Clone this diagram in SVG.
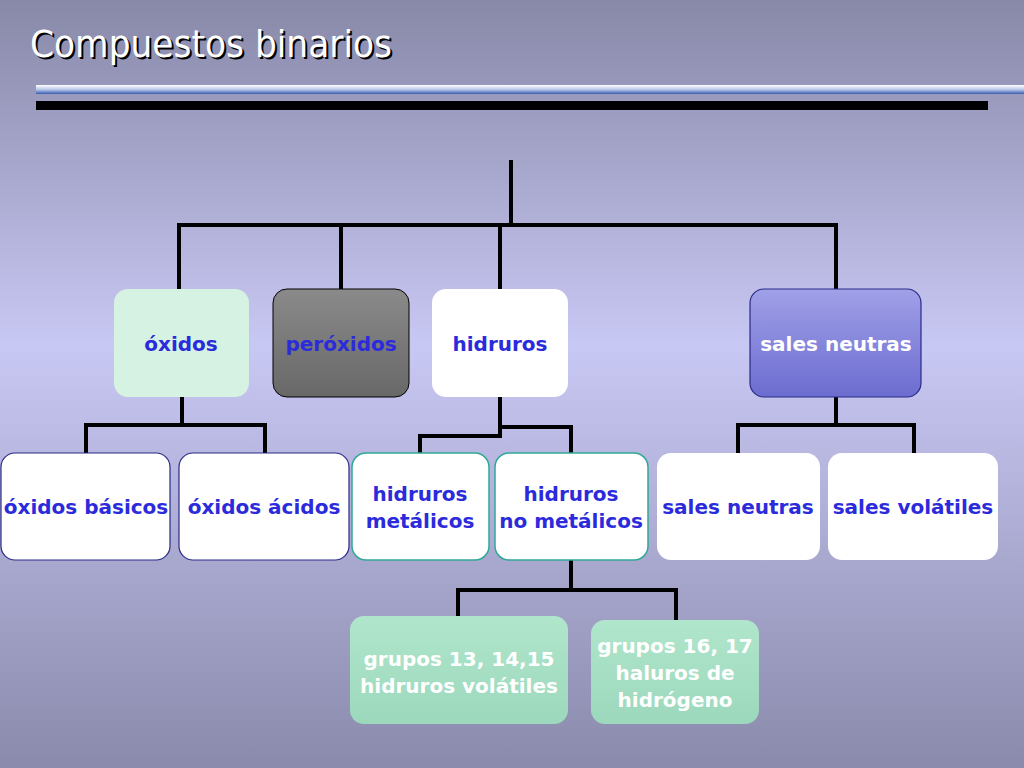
<svg xmlns="http://www.w3.org/2000/svg" width="1024" height="768" viewBox="0 0 1024 768">
<defs>
<linearGradient id="bg" x1="0" y1="0" x2="0" y2="1">
<stop offset="0" stop-color="#8888a8"/><stop offset="0.45" stop-color="#c8c8f4"/><stop offset="1" stop-color="#8a8aac"/>
</linearGradient>
<linearGradient id="bar" x1="0" y1="0" x2="0" y2="1">
<stop offset="0" stop-color="#ffffff"/><stop offset="0.5" stop-color="#b8c8e8"/><stop offset="1" stop-color="#3a5cb0"/>
</linearGradient>
<linearGradient id="gray" x1="0" y1="0" x2="0" y2="1"><stop offset="0" stop-color="#8a8a8a"/><stop offset="1" stop-color="#686868"/></linearGradient>
<linearGradient id="blu" x1="0" y1="0" x2="0" y2="1"><stop offset="0" stop-color="#a0a0e8"/><stop offset="1" stop-color="#6c6cd0"/></linearGradient>
<linearGradient id="mint" x1="0" y1="0" x2="0" y2="1"><stop offset="0" stop-color="#b0e6cc"/><stop offset="1" stop-color="#9cd8bc"/></linearGradient>
</defs>
<style>
text{font-family:"DejaVu Sans","Liberation Sans",sans-serif;font-weight:bold;font-size:20px;text-anchor:middle;fill:#2b2bdc}
.w{fill:#ffffff}
.c path{fill:none;stroke:#000;stroke-width:4}
.b{stroke:#2a2a88;stroke-width:1.2}
.t{stroke:#30a898;stroke-width:1.5}
</style>
<rect width="1024" height="768" fill="url(#bg)"/>
<text x="30" y="57" style="font-weight:normal;font-size:38px;text-anchor:start;fill:#000" textLength="362" lengthAdjust="spacingAndGlyphs" transform="translate(2,2)">Compuestos binarios</text>
<text x="30" y="57" class="w" style="font-weight:normal;font-size:38px;text-anchor:start" textLength="362" lengthAdjust="spacingAndGlyphs">Compuestos binarios</text>
<rect x="36" y="85" width="994" height="9" fill="url(#bar)"/>
<rect x="36" y="101" width="952" height="9" fill="#000"/>
<g class="c" id="connectors">
<path d="M511 160V225" stroke-width="5"/>
<path d="M179 289V225H836V289M341 225V289M500 225V289"/>
<path d="M182 397V425M86 453V425H265V453"/>
<path d="M500 397V427H571V453M500 427V436H420V453"/>
<path d="M836 397V425M738 453V425H914V453"/>
<path d="M571 560V590M458 616V590H676V620"/>
</g>
<g id="oxidos"><rect x="114" y="289" width="135" height="108" rx="14" fill="#d6f2e2"/><text x="181" y="351">óxidos</text></g>
<g id="peroxidos"><rect x="273" y="289" width="136" height="108" rx="14" fill="url(#gray)" stroke="#000"/><text x="341" y="351">peróxidos</text></g>
<g id="hidruros"><rect x="432" y="289" width="136" height="108" rx="14" fill="#fff"/><text x="500" y="351">hidruros</text></g>
<g id="sales"><rect x="750" y="289" width="171" height="108" rx="14" fill="url(#blu)" class="b"/><text x="836" y="351" class="w">sales neutras</text></g>
<g id="oxbas"><rect x="1" y="453" width="169" height="107" rx="14" fill="#fff" class="b"/><text x="86" y="514">óxidos básicos</text></g>
<g id="oxac"><rect x="179" y="453" width="170" height="107" rx="14" fill="#fff" class="b"/><text x="264" y="514">óxidos ácidos</text></g>
<g id="hmet"><rect x="352" y="453" width="137" height="107" rx="14" fill="#fff" class="t"/><text x="420" y="501">hidruros</text><text x="420" y="528">metálicos</text></g>
<g id="hnomet"><rect x="495" y="453" width="153" height="107" rx="14" fill="#fff" class="t"/><text x="571" y="501">hidruros</text><text x="571" y="528">no metálicos</text></g>
<g id="sneutras"><rect x="657" y="453" width="163" height="107" rx="14" fill="#fff"/><text x="738" y="514">sales neutras</text></g>
<g id="svol"><rect x="828" y="453" width="170" height="107" rx="14" fill="#fff"/><text x="913" y="514">sales volátiles</text></g>
<g id="g13"><rect x="350" y="616" width="218" height="108" rx="14" fill="url(#mint)"/><text x="459" y="666" class="w">grupos 13, 14,15</text><text x="459" y="693" class="w">hidruros volátiles</text></g>
<g id="g16"><rect x="591" y="620" width="168" height="104" rx="14" fill="url(#mint)"/><text x="675" y="653" class="w">grupos 16, 17</text><text x="675" y="680" class="w">haluros de</text><text x="675" y="707" class="w">hidrógeno</text></g>
</svg>
